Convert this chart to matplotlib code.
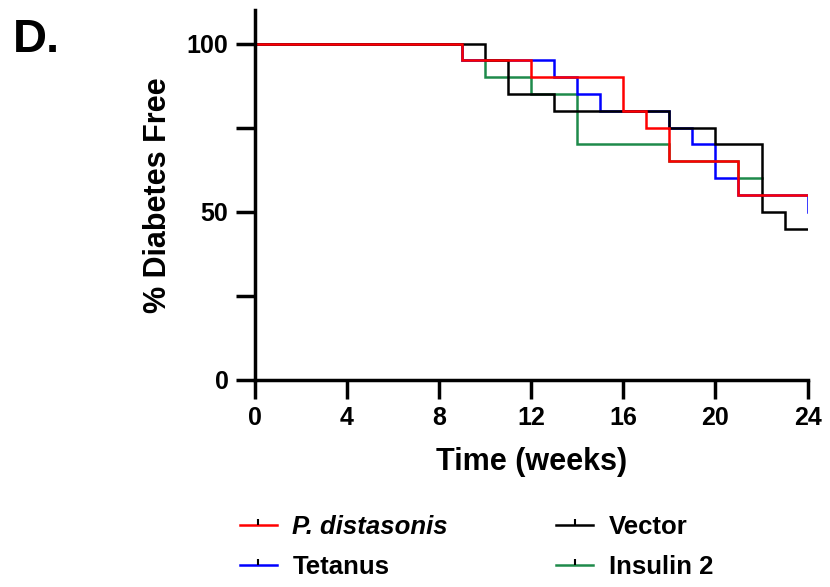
import numpy as np
import matplotlib.pyplot as plt
from matplotlib.lines import Line2D
from matplotlib.ticker import MultipleLocator

plt.rcParams['font.family'] = ['Liberation Sans', 'DejaVu Sans']
plt.rcParams['font.weight'] = 'bold'

# step times (weeks) and % diabetes free after each step
pd_t = [0, 9, 12, 16, 17, 18, 21, 24]
pd_y = [100, 95, 90, 80, 75, 65, 55, 55]

tet_t = [0, 9, 13, 14, 15, 18, 19, 20, 21, 24]
tet_y = [100, 95, 90, 85, 80, 75, 70, 60, 55, 50]

vec_t = [0, 10, 11, 13, 18, 20, 22, 23, 24]
vec_y = [100, 95, 85, 80, 75, 70, 50, 45, 45]

ins_t = [0, 9, 10, 12, 14, 18, 21, 22]
ins_y = [100, 95, 90, 85, 70, 65, 60, 60]

labels = ['P. distasonis', 'Tetanus', 'Vector', 'Insulin 2']
colors = ['#ff0000', '#0000ff', '#000000', '#1e8a4a']

fig = plt.figure(figsize=(8.3, 5.87), dpi=100)
ax = fig.add_axes([0.307, 0.353, 0.666, 0.630])

# drawing order: green, blue, black, red on top
series = [(ins_t, ins_y), (tet_t, tet_y), (vec_t, vec_y), (pd_t, pd_y)]
cols = [colors[3], colors[1], colors[2], colors[0]]
for (t, y), c in zip(series, cols):
    ax.step(t, y, where='post', color=c, lw=1.8, solid_joinstyle='miter')

ax.set_xlim(0, 24)
ax.set_ylim(0, 110)
ax.set_xticks(np.arange(0, 25, 4))
ax.set_yticks([0, 50, 100])
ax.yaxis.set_minor_locator(MultipleLocator(25))
ax.spines['top'].set_visible(False)
ax.spines['right'].set_visible(False)
for s in ['left', 'bottom']:
    ax.spines[s].set_linewidth(2.5)
ax.tick_params(axis='both', which='major', length=14, width=2.5, labelsize=18, pad=5)
ax.tick_params(axis='y', which='minor', length=14, width=2.5)
for lab in ax.get_xticklabels() + ax.get_yticklabels():
    lab.set_fontweight('bold')

ax.set_xlabel('Time (weeks)', fontsize=22, fontweight='bold', labelpad=12)
ax.set_ylabel('% Diabetes Free', fontsize=22, fontweight='bold', labelpad=10)

fig.text(0.016, 0.912, 'D.', fontsize=34, fontweight='bold')

mk = [(0, 0), (0, 1)]
handles = [Line2D([0], [0], color=c, lw=1.8, marker=mk, markersize=9,
                  markeredgewidth=1.5, markeredgecolor='black')
           for c in colors]
leg = fig.legend(handles, labels, loc='center', bbox_to_anchor=(0.574, 0.068),
                 ncol=2, frameon=False, fontsize=18.5, handlelength=1.45,
                 handletextpad=0.6, columnspacing=4.2, labelspacing=0.6,
                 borderpad=0.2)
leg.get_texts()[0].set_fontstyle('italic')
for t in leg.get_texts():
    t.set_fontweight('bold')

fig.savefig('out.png', dpi=100)
